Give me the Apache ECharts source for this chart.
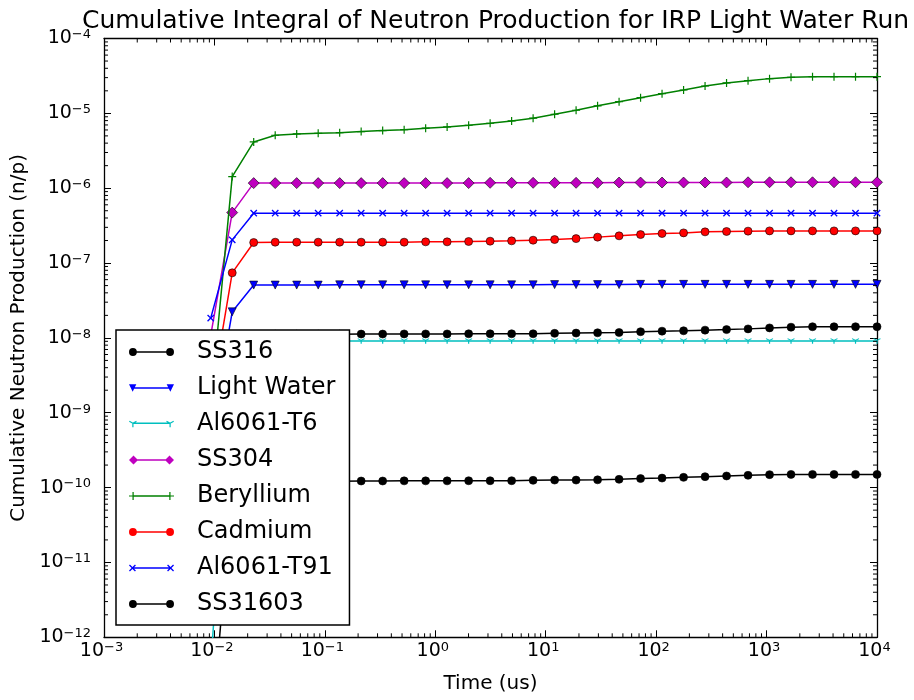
<!DOCTYPE html>
<html><head><meta charset="utf-8">
<script src="https://cdn.jsdelivr.net/npm/echarts@6/dist/echarts.min.js"></script>
<style>html,body{margin:0;padding:0;background:#fff}#c{width:914px;height:700px}</style>
</head><body><div id="c"></div>
<script>
// ---------------- data ----------------
var timeUs = [0.009257, 0.01449, 0.02268, 0.03551, 0.05559, 0.08701, 0.1362, 0.2132, 0.3338, 0.5224,
  0.8179, 1.280, 2.005, 3.138, 4.912, 7.689, 12.04, 18.84, 29.49, 46.17,
  72.28, 113.1, 177.2, 277.3, 434.1, 679.5, 1064, 1665, 2607, 4081, 6390, 10000];

var seriesNames = ['SS316', 'Light Water', 'Al6061-T6', 'SS304', 'Beryllium', 'Cadmium', 'Al6061-T91', 'SS31603'];

var ss316 = [3e-10, 4.5e-9, 1.08e-8, 1.12e-8, 1.12e-8, 1.12e-8, 1.12e-8, 1.125e-8, 1.125e-8, 1.13e-8,
  1.13e-8, 1.13e-8, 1.135e-8, 1.135e-8, 1.135e-8, 1.135e-8, 1.15e-8, 1.16e-8, 1.17e-8, 1.18e-8,
  1.21e-8, 1.23e-8, 1.245e-8, 1.27e-8, 1.29e-8, 1.32e-8, 1.36e-8, 1.39e-8, 1.41e-8, 1.41e-8, 1.41e-8, 1.41e-8];
var lightWater = [5e-10, 2.23e-8, 5.08e-8, 5.08e-8, 5.08e-8, 5.08e-8, 5.12e-8, 5.12e-8, 5.12e-8, 5.12e-8,
  5.12e-8, 5.12e-8, 5.12e-8, 5.12e-8, 5.12e-8, 5.12e-8, 5.15e-8, 5.15e-8, 5.15e-8, 5.15e-8,
  5.19e-8, 5.19e-8, 5.19e-8, 5.19e-8, 5.19e-8, 5.19e-8, 5.19e-8, 5.19e-8, 5.19e-8, 5.19e-8, 5.19e-8, 5.19e-8];
var al6061T6 = [4e-13, 9.1e-9, 9.1e-9, 9.1e-9, 9.1e-9, 9.1e-9, 9.1e-9, 9.1e-9, 9.1e-9, 9.1e-9,
  9.1e-9, 9.1e-9, 9.1e-9, 9.1e-9, 9.1e-9, 9.1e-9, 9.1e-9, 9.1e-9, 9.1e-9, 9.1e-9,
  9.1e-9, 9.1e-9, 9.1e-9, 9.1e-9, 9.1e-9, 9.1e-9, 9.1e-9, 9.1e-9, 9.1e-9, 9.1e-9, 9.1e-9, 9.1e-9];
var ss304 = [1.08e-8, 4.72e-7, 1.17e-6, 1.17e-6, 1.17e-6, 1.17e-6, 1.17e-6, 1.17e-6, 1.17e-6, 1.17e-6,
  1.17e-6, 1.17e-6, 1.17e-6, 1.18e-6, 1.18e-6, 1.18e-6, 1.18e-6, 1.18e-6, 1.18e-6, 1.19e-6,
  1.19e-6, 1.19e-6, 1.19e-6, 1.19e-6, 1.19e-6, 1.20e-6, 1.20e-6, 1.20e-6, 1.20e-6, 1.20e-6, 1.20e-6, 1.20e-6];
var beryllium = [1.33e-9, 1.43e-6, 4.15e-6, 5.10e-6, 5.31e-6, 5.42e-6, 5.52e-6, 5.70e-6, 5.88e-6, 6.06e-6,
  6.33e-6, 6.58e-6, 6.93e-6, 7.38e-6, 7.92e-6, 8.61e-6, 9.73e-6, 1.10e-5, 1.26e-5, 1.43e-5,
  1.62e-5, 1.83e-5, 2.05e-5, 2.32e-5, 2.55e-5, 2.73e-5, 2.91e-5, 3.03e-5, 3.09e-5, 3.09e-5, 3.09e-5, 3.09e-5];
var cadmium = [1.45e-9, 7.40e-8, 1.88e-7, 1.90e-7, 1.90e-7, 1.90e-7, 1.90e-7, 1.90e-7, 1.90e-7, 1.90e-7,
  1.92e-7, 1.92e-7, 1.94e-7, 1.96e-7, 1.98e-7, 2.02e-7, 2.06e-7, 2.12e-7, 2.22e-7, 2.31e-7,
  2.40e-7, 2.48e-7, 2.53e-7, 2.61e-7, 2.64e-7, 2.67e-7, 2.69e-7, 2.69e-7, 2.69e-7, 2.69e-7, 2.69e-7, 2.69e-7];
var al6061T91 = [1.84e-8, 2.04e-7, 4.64e-7, 4.64e-7, 4.64e-7, 4.64e-7, 4.64e-7, 4.64e-7, 4.64e-7, 4.64e-7,
  4.64e-7, 4.64e-7, 4.64e-7, 4.64e-7, 4.64e-7, 4.64e-7, 4.64e-7, 4.64e-7, 4.64e-7, 4.64e-7,
  4.64e-7, 4.64e-7, 4.64e-7, 4.64e-7, 4.64e-7, 4.64e-7, 4.64e-7, 4.64e-7, 4.64e-7, 4.64e-7, 4.64e-7, 4.64e-7];
var ss31603 = [4e-14, 1.0e-10, 1.2e-10, 1.22e-10, 1.22e-10, 1.22e-10, 1.22e-10, 1.225e-10, 1.225e-10, 1.23e-10,
  1.23e-10, 1.23e-10, 1.235e-10, 1.235e-10, 1.236e-10, 1.25e-10, 1.26e-10, 1.26e-10, 1.27e-10, 1.29e-10,
  1.32e-10, 1.34e-10, 1.37e-10, 1.40e-10, 1.43e-10, 1.46e-10, 1.49e-10, 1.50e-10, 1.50e-10, 1.50e-10, 1.50e-10, 1.50e-10];

var xMin = 1e-3, xMax = 1e4, yMin = 1e-12, yMax = 1e-4;
var titleText = 'Cumulative Integral of Neutron Production for IRP Light Water Run';
var xName = 'Time (us)';
var yName = 'Cumulative Neutron Production (n/p)';

// ---------------- styling helpers ----------------
var FONT = 'DejaVu Sans';
function poly(pts, cx, cy) {
  var s = '';
  for (var i = 0; i < pts.length; i++) s += (i ? ' L' : 'M') + (pts[i][0] + cx).toFixed(3) + ',' + (pts[i][1] + cy).toFixed(3);
  return s + ' Z';
}
function rot(pts, deg) {
  var a = deg * Math.PI / 180, c = Math.cos(a), s = Math.sin(a);
  return pts.map(function (p) { return [p[0] * c - p[1] * s, p[0] * s + p[1] * c]; });
}
var PLUS = [[-0.6,-4],[0.6,-4],[0.6,-0.6],[4,-0.6],[4,0.6],[0.6,0.6],[0.6,4],[-0.6,4],[-0.6,0.6],[-4,0.6],[-4,-0.6],[-0.6,-0.6]];
var XM = rot(PLUS, 45);
var ARM = [[-0.6,0],[0.6,0],[0.6,4],[-0.6,4]];
function triPath(cx, cy) { return poly(ARM, cx, cy) + ' ' + poly(rot(ARM, 120), cx, cy) + ' ' + poly(rot(ARM, 240), cx, cy); }
function circlePath(cx, cy, r) {
  return 'M' + (cx - r) + ',' + cy + ' A' + r + ',' + r + ' 0 1 1 ' + (cx + r) + ',' + cy + ' A' + r + ',' + r + ' 0 1 1 ' + (cx - r) + ',' + cy + ' Z';
}
var LINE = 'M4.5,4.25 L40.5,4.25 L40.5,5.75 L4.5,5.75 Z ';
var icons = {
  circle: 'path://' + LINE + circlePath(4.5, 5, 3.8) + ' ' + circlePath(40.5, 5, 3.8),
  diamond: 'path://' + LINE + 'M0,5 L4.5,0.5 L9,5 L4.5,9.5 Z M36,5 L40.5,0.5 L45,5 L40.5,9.5 Z',
  tri: 'path://' + LINE + 'M1,1.5 L8,1.5 L4.5,8.5 Z M37,1.5 L44,1.5 L40.5,8.5 Z',
  plus: 'path://' + LINE + poly(PLUS, 4.5, 5) + ' ' + poly(PLUS, 40.5, 5),
  x: 'path://' + LINE + poly(XM, 4.5, 5) + ' ' + poly(XM, 40.5, 5),
  y: 'path://' + LINE + triPath(4.5, 5) + ' ' + triPath(40.5, 5)
};

var styleSpecs = [
  { ys: ss316,      color: '#000000', symbol: 'circle',  size: 8,   rotate: 0,   border: true,  icon: 'circle' },
  { ys: lightWater, color: '#0000ff', symbol: 'triangle', size: 8,  rotate: 180, border: true,  icon: 'tri' },
  { ys: al6061T6,   color: '#00bfbf', symbol: 'path://' + triPath(0, 0), size: [7.5, 6.5], rotate: 0, border: false, icon: 'y' },
  { ys: ss304,      color: '#bf00bf', symbol: 'diamond', size: 11,  rotate: 0,   border: true,  icon: 'diamond' },
  { ys: beryllium,  color: '#008000', symbol: 'path://' + poly(PLUS, 0, 0), size: 8, rotate: 0, border: false, icon: 'plus' },
  { ys: cadmium,    color: '#ff0000', symbol: 'circle',  size: 8,   rotate: 0,   border: true,  icon: 'circle' },
  { ys: al6061T91,  color: '#0000ff', symbol: 'path://' + poly(XM, 0, 0), size: 7.3, rotate: 0, border: false, icon: 'x' },
  { ys: ss31603,    color: '#000000', symbol: 'circle',  size: 8,   rotate: 0,   border: true,  icon: 'circle' }
];

var series = styleSpecs.map(function (s, i) {
  return {
    name: seriesNames[i], type: 'line', xAxisIndex: 0, yAxisIndex: 0,
    data: timeUs.map(function (t, k) { return [t, s.ys[k]]; }),
    symbol: s.symbol, symbolSize: s.size, symbolRotate: s.rotate, symbolKeepAspect: true,
    showSymbol: true, showAllSymbol: true, clip: true, z: 2 + i * 0.01,
    lineStyle: { color: s.color, width: 1.5 },
    itemStyle: { color: s.color, borderColor: '#000', borderWidth: s.border ? 0.6 : 0, opacity: 1 },
    emphasis: { disabled: true }, animation: false
  };
});

// minor ticks (decoration) through the axis scales
var minorX = [], minorY = [];
for (var k = -3; k < 4; k++) for (var m = 2; m < 10; m++) minorX.push([m * Math.pow(10, k), yMin]);
for (var k2 = -12; k2 < -4; k2++) for (var m2 = 2; m2 < 10; m2++) minorY.push([xMin, m2 * Math.pow(10, k2)]);

series.push({
  type: 'custom', name: '_minorX', xAxisIndex: 0, yAxisIndex: 0, silent: true, z: 5, clip: false,
  data: minorX, animation: false,
  renderItem: function (params, api) {
    var cs = params.coordSys;
    var x = api.coord([api.value(0), yMin])[0];
    var b = cs.y + cs.height, t = cs.y;
    return { type: 'group', children: [
      { type: 'line', shape: { x1: x, y1: b, x2: x, y2: b - 4 }, style: { stroke: '#000', lineWidth: 1 } },
      { type: 'line', shape: { x1: x, y1: t, x2: x, y2: t + 4 }, style: { stroke: '#000', lineWidth: 1 } }
    ] };
  }
});
series.push({
  type: 'custom', name: '_minorY', xAxisIndex: 0, yAxisIndex: 0, silent: true, z: 5, clip: false,
  data: minorY, animation: false,
  renderItem: function (params, api) {
    var cs = params.coordSys;
    var y = api.coord([xMin, api.value(1)])[1];
    var l = cs.x, r = cs.x + cs.width;
    return { type: 'group', children: [
      { type: 'line', shape: { x1: l, y1: y, x2: l + 4, y2: y }, style: { stroke: '#000', lineWidth: 1 } },
      { type: 'line', shape: { x1: r, y1: y, x2: r - 4, y2: y }, style: { stroke: '#000', lineWidth: 1 } }
    ] };
  }
});

function expFmt(v) {
  var e = Math.round(Math.log(v) / Math.LN10);
  var s = e < 0 ? '\u2212' + (-e) : '' + e;
  return '{b|10}{s|' + s + '}';
}
var richLbl = {
  b: { fontSize: 19, lineHeight: 20, fontFamily: FONT, color: '#000' },
  s: { fontSize: 13, lineHeight: 13, verticalAlign: 'top', fontFamily: FONT, color: '#000' }
};
var axisLineStyle = { show: true, lineStyle: { color: '#000', width: 1.3 } };
var tickStyle = { show: true, inside: true, length: 7, lineStyle: { color: '#000', width: 1 } };

var option = {
  backgroundColor: '#fff',
  animation: false,
  title: {
    text: titleText, left: 490.5, top: 4, textAlign: 'center',
    textStyle: { fontSize: 25, fontWeight: 'normal', fontFamily: FONT, color: '#000' }
  },
  grid: { left: 104, right: 37, top: 38.5, bottom: 62.7, containLabel: false, outerBoundsMode: 'none' },
  legend: {
    orient: 'vertical', left: 116, top: 330, padding: [8, 14, 7, 13], itemGap: 8,
    itemWidth: 45, itemHeight: 10, selectedMode: false,
    backgroundColor: '#fff', borderColor: '#000', borderWidth: 1.5, borderRadius: 0, z: 10,
    itemStyle: { borderWidth: 0 },
    textStyle: { fontSize: 24, fontFamily: FONT, color: '#000', lineHeight: 28, padding: [0, 0, 0, 18] },
    data: seriesNames.map(function (n, i) { return { name: n, icon: icons[styleSpecs[i].icon] }; })
  },
  xAxis: [
    {
      type: 'log', logBase: 10, min: xMin, max: xMax, splitNumber: 7, position: 'bottom',
      axisLine: axisLineStyle, axisTick: tickStyle, splitLine: { show: false },
      axisLabel: { margin: 4, formatter: expFmt, rich: richLbl, padding: [0, 5, 0, 0] },
      name: xName, nameLocation: 'middle', nameGap: 36,
      nameTextStyle: { fontSize: 20, fontFamily: FONT, color: '#000' }
    },
    {
      type: 'log', logBase: 10, min: xMin, max: xMax, splitNumber: 7, position: 'top',
      axisLine: axisLineStyle, axisTick: tickStyle, splitLine: { show: false }, axisLabel: { show: false }
    }
  ],
  yAxis: [
    {
      type: 'log', logBase: 10, min: yMin, max: yMax, splitNumber: 8, position: 'left',
      axisLine: axisLineStyle, axisTick: tickStyle, splitLine: { show: false },
      axisLabel: { margin: 13, formatter: expFmt, rich: richLbl },
      name: yName, nameLocation: 'middle', nameGap: 73, nameRotate: 90,
      nameTextStyle: { fontSize: 20, fontFamily: FONT, color: '#000' }
    },
    {
      type: 'log', logBase: 10, min: yMin, max: yMax, splitNumber: 8, position: 'right',
      axisLine: axisLineStyle, axisTick: tickStyle, splitLine: { show: false }, axisLabel: { show: false }
    }
  ],
  series: series
};

var chart = echarts.init(document.getElementById('c'), null, { renderer: 'canvas' });
chart.setOption(option);
</script>
</body></html>
